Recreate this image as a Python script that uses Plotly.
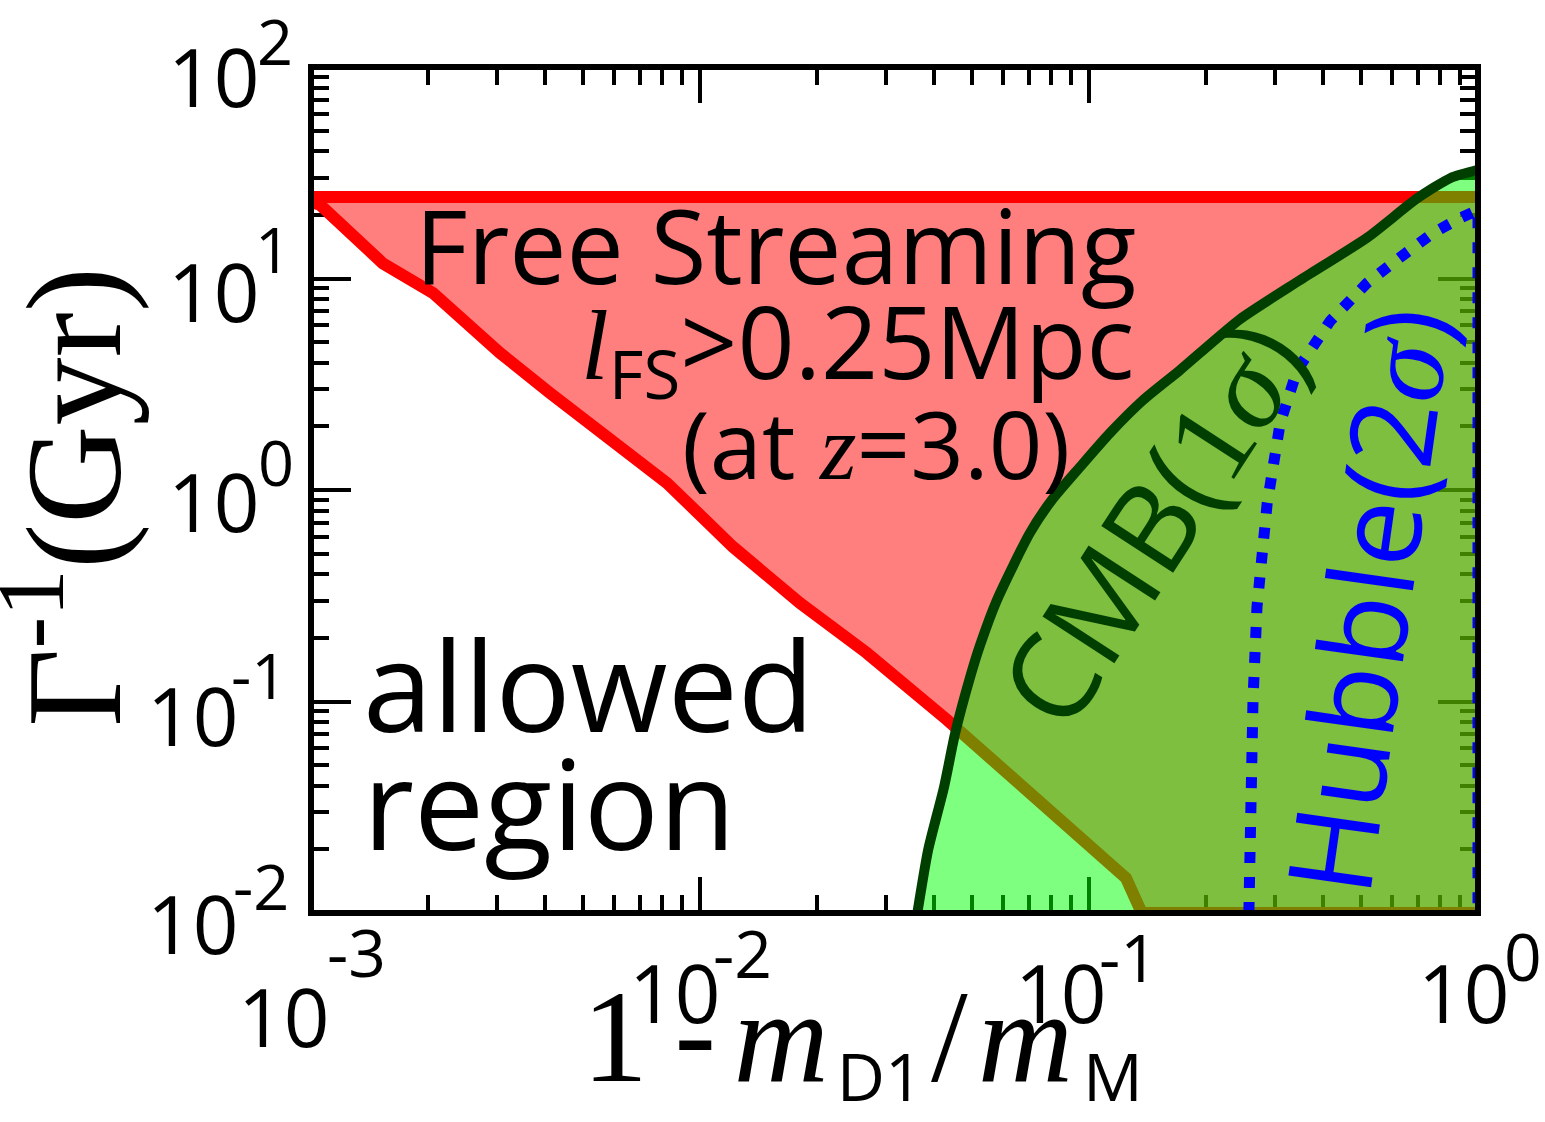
import plotly.graph_objects as go

# ---- data -------------------------------------------------------------
# Free-streaming bound (l_FS > 0.25 Mpc at z = 3.0): lower-left edge of the excluded band
fs_x = [0.000915, 0.001055, 0.00153, 0.00206, 0.00306, 0.00411, 0.00553,
        0.00822, 0.01216, 0.01807, 0.02685, 0.0432, 0.1245, 0.1367]
fs_y = [24.3, 22.3, 11.8, 8.53, 4.45, 2.88, 1.88,
        1.08, 0.538, 0.292, 0.1695, 0.0818, 0.01463, 0.01]
fs_top = 24.3          # upper edge of the free-streaming band (Gyr)

# CMB (1 sigma) excluded boundary
cmb_x = [0.0362, 0.0386, 0.0424, 0.0453, 0.0495, 0.0525, 0.0580, 0.0705,
         0.0803, 0.0948, 0.1132, 0.1377, 0.1714, 0.2444, 0.348, 0.519,
         0.697, 0.848, 1.0]
cmb_y = [0.01, 0.0199, 0.0394, 0.0710, 0.1306, 0.185, 0.302, 0.627,
         0.898, 1.284, 1.86, 2.66, 3.69, 6.42, 9.8, 15.6,
         23.9, 29.8, 32.6]

# Hubble (2 sigma) boundary
hub_x = [0.2576, 0.2595, 0.264, 0.2703, 0.287, 0.310, 0.343, 0.417,
         0.519, 0.631, 0.766, 0.900, 1.0, 1.0]
hub_y = [0.01, 0.0342, 0.1016, 0.280, 0.859, 2.07, 3.69, 6.30,
         9.53, 12.6, 16.4, 19.3, 21.1, 0.01]

x_tick_exp = ["-3", "-2", "-1", "0"]
y_tick_exp = ["2", "1", "0", "-1", "-2"]

x_min, x_max = 1e-3, 1.0
y_min, y_max = 1e-2, 1e2

# ---- layout geometry (pixels) ----------------------------------------
W, H = 1545, 1122
L, R, T, B = 311, 1478, 67, 913

def px(x):
    return (x - L) / (R - L)

def py(y):
    return (B - y) / (B - T)

SANS = "Open Sans"
SERIF = "Liberation Serif"
DKGREEN = "#003f00"

fig = go.Figure()

# free-streaming region
fig.add_trace(go.Scatter(
    x=fs_x + [x_max, x_max], y=fs_y + [y_min, fs_top],
    mode="lines", fill="toself", fillcolor="rgba(255,0,0,0.5)",
    line=dict(width=0), hoverinfo="skip", showlegend=False))
fig.add_trace(go.Scatter(
    x=[x_max] + fs_x + [x_max], y=[fs_top] + fs_y + [y_min],
    mode="lines", line=dict(color="#ff0000", width=12),
    hoverinfo="skip", showlegend=False))

# CMB region
fig.add_trace(go.Scatter(
    x=cmb_x + [x_max], y=cmb_y + [y_min],
    mode="lines", fill="toself", fillcolor="rgba(0,255,0,0.5)",
    line=dict(width=0, shape="spline", smoothing=0.6),
    hoverinfo="skip", showlegend=False))
fig.add_trace(go.Scatter(
    x=cmb_x, y=cmb_y, mode="lines",
    line=dict(color=DKGREEN, width=10, shape="spline", smoothing=0.6),
    hoverinfo="skip", showlegend=False))

# Hubble contour
fig.add_trace(go.Scatter(
    x=hub_x, y=hub_y, mode="lines",
    line=dict(color="#0000ff", width=11, dash="11px,14px"),
    hoverinfo="skip", showlegend=False))

axis_common = dict(
    type="log", showgrid=False, zeroline=False, showline=False,
    ticks="inside", tickwidth=4, tickcolor="black", dtick=1,
    mirror="allticks", showticklabels=False, layer="below traces",
    minor=dict(ticks="inside", ticklen=18, tickwidth=4,
               tickcolor="black", dtick="D1", showgrid=False),
)
fig.update_xaxes(range=[-3, 0], ticklen=36, **axis_common)
fig.update_yaxes(range=[-2, 2], ticklen=40, **axis_common)

ann = []

def text(x, y, s, size, family=SANS, color="black", xanchor="center",
         yanchor="middle", angle=0):
    ann.append(dict(x=px(x), y=py(y), xref="paper", yref="paper", text=s,
                    showarrow=False, xanchor=xanchor, yanchor=yanchor,
                    textangle=angle,
                    font=dict(family=family, size=size, color=color)))

# x tick labels: mantissa and exponent
x_base_pos = [(283, 1016), (674, 991), (1060, 991), (1463, 991)]
x_exp_pos = [(356, 951), (742, 952), (1128, 956), (1523, 955)]
for (bx, by), (ex, ey), e in zip(x_base_pos, x_exp_pos, x_tick_exp):
    text(bx, by, "10", 80)
    text(ex, ey, e, 66)

# y tick labels
y_base_pos = [(213, 76), (213, 290), (213, 500), (192, 714), (192, 923)]
y_exp_pos = [(275, 40), (273, 249), (276, 462), (259, 674), (261, 885)]
for (bx, by), (ex, ey), e in zip(y_base_pos, y_exp_pos, y_tick_exp):
    text(bx, by, "10", 80)
    text(ex, ey, e, 63)


def gap(px_width):
    # horizontal spacer: a no-break space is 0.25 em wide in the serif face
    return "<span style=\"font-size:%dpx\">&nbsp;</span>" % (4 * px_width)


def sub(s):
    return ("<span style=\"font-size:95px\"><sub>"
            "<span style=\"font-family:Open Sans\">%s</span></sub></span>" % s)


# axis titles
text(64, 497, "\u0393<sup>-1</sup>(Gyr)", 136, family=SERIF, angle=-90)
x_title = ("1" + gap(26) + "<span style=\"font-family:Open Sans\">-</span>"
           + gap(17) + "<i>m</i>" + gap(8) + sub("D1") + gap(8) + "/"
           + gap(10) + "<i>m</i>" + gap(10) + sub("M"))
text(862, 938, x_title, 132, family=SERIF, yanchor="top")

# region labels
text(1138, 244, "Free Streaming", 102, xanchor="right")
text(1136, 345,
     "<span style=\"font-family:Liberation Serif\"><i>l</i></span>"
     "<span style=\"font-size:96px\"><sub>FS</sub></span>&gt;0.25Mpc",
     100, xanchor="right")
text(876, 443,
     "(at <span style=\"font-family:Liberation Serif\"><i>z</i></span>=3.0)",
     94)
text(361, 683, "allowed", 125, xanchor="left")
text(361, 801, "region", 125, xanchor="left")
text(1150, 522,
     "CMB(<span style=\"font-family:Liberation Serif\">1<i>\u03c3</i></span>)",
     120, color=DKGREEN, angle=-57)
text(1365, 600,
     "Hubble(2<span style=\"font-family:Liberation Serif\"><i>\u03c3</i></span>)",
     117, color="#0000ff", angle=-82)

fig.update_layout(
    width=W, height=H,
    margin=dict(l=L, r=W - R, t=T, b=H - B, pad=0),
    paper_bgcolor="white", plot_bgcolor="white",
    showlegend=False,
    annotations=ann,
    shapes=[dict(type="rect", xref="paper", yref="paper", x0=0, y0=0,
                 x1=1, y1=1, line=dict(color="black", width=6),
                 layer="above")],
)

fig.write_html("out.html")
